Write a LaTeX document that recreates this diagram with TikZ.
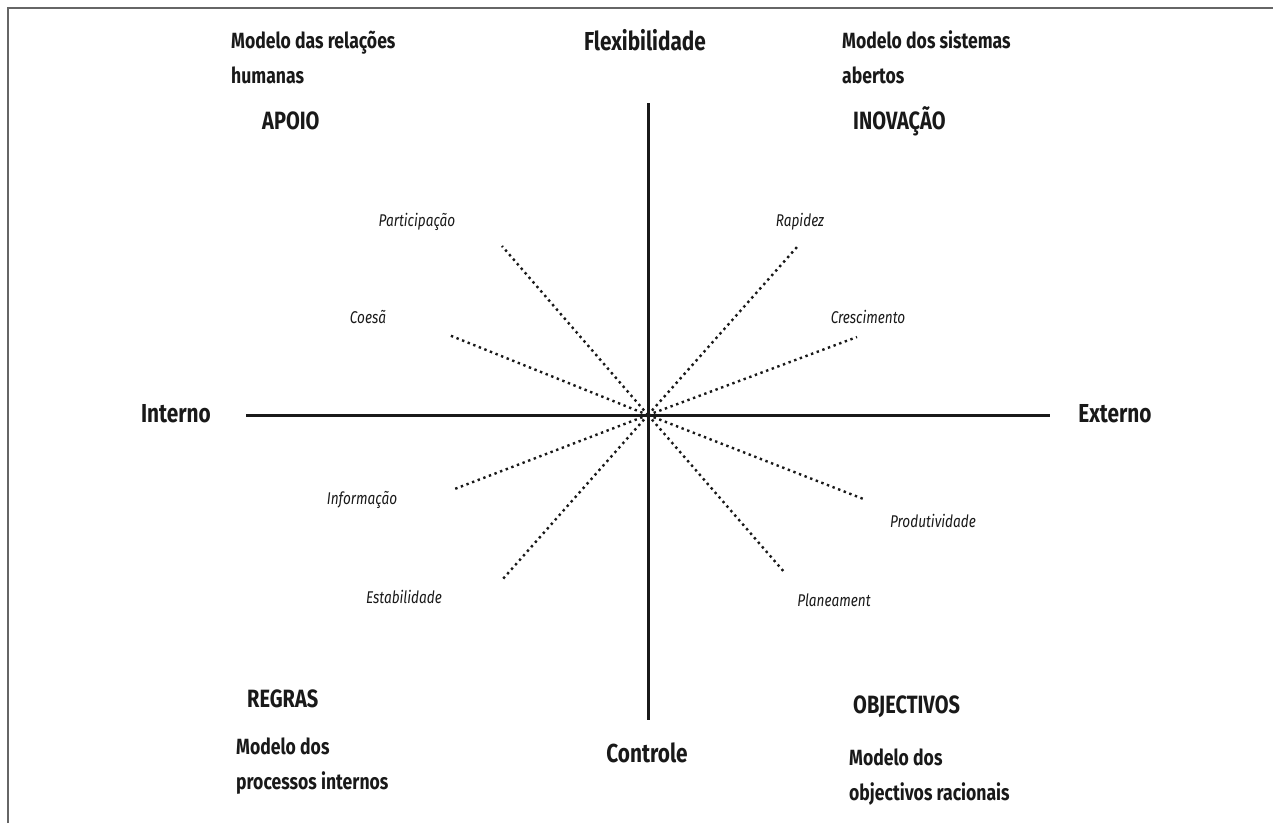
\documentclass[tikz,border=0pt]{standalone}
\usepackage{fontspec}
\setmainfont{Fira Sans}[FakeStretch=0.8]
\usetikzlibrary{positioning}

\begin{document}
\begin{tikzpicture}[
  x=1pt, y=-1pt,
  axis/.style={line width=3pt, black!90},
  ray/.style={line width=2.4pt, dash pattern=on 2.4pt off 3.6pt, black!90},
  pole/.style={font=\fontsize{26}{30}\selectfont\bfseries, inner sep=0pt, anchor=base, text=black!90},
  quad/.style={font=\fontsize{25}{30}\selectfont\bfseries, inner sep=0pt, anchor=base west, text=black!90},
  model/.style={font=\fontsize{22}{35}\selectfont\bfseries, align=left, inner sep=0pt, anchor=base west, text=black!90},
  item/.style={font=\fontsize{17}{20}\selectfont\itshape, inner sep=0pt, text=black!90}
]
\useasboundingbox (0,0) rectangle (1273,823);
\draw[black!60, line width=1.5pt] (8,823) -- (8,8) -- (1273,8);

% axes
\coordinate (o) at (648,415);
\coordinate (top) at (648,103);
\coordinate (bot) at (648,720);
\coordinate (lft) at (246,415);
\coordinate (rgt) at (1050,415);
\node[pole] (flex) at (645,50) {Flexibilidade};
\node[pole] (ctrl) at (647,762) {Controle};
\node[pole] (int) at (176,422) {Interno};
\node[pole] (ext) at (1115,422) {Externo};
\draw[axis] (top) -- (bot);
\draw[axis] (lft) -- (rgt);

% quadrants (base = last line)
\node[model] (mrh) at (231,83) {Modelo das relações\\humanas};
\node[model] (msa) at (842,83) {Modelo dos sistemas\\abertos};
\node[model] (mpi) at (236,789) {Modelo dos\\processos internos};
\node[model] (mor) at (849,800) {Modelo dos\\objectivos racionais};
\node[quad] (apoio) at (262,129) {APOIO};
\node[quad] (inov) at (853,129) {INOVAÇÃO};
\node[quad] (regras) at (247,707) {REGRAS};
\node[quad] (obj) at (853,713) {OBJECTIVOS};

% rays
\coordinate (part) at (502,246);
\coordinate (coes) at (449,335);
\coordinate (info) at (452,490);
\coordinate (esta) at (502,580);
\coordinate (rapi) at (797,247);
\coordinate (cres) at (857,337);
\coordinate (prod) at (866,500);
\coordinate (plan) at (785,573);
\node[item] (lpart) at (417,222) {Participação};
\node[item] (lcoes) at (368,317) {Coesã};
\node[item] (linfo) at (362,500) {Informação};
\node[item] (lesta) at (404,597) {Estabilidade};
\node[item] (lrapi) at (800,222) {Rapidez};
\node[item] (lcres) at (868,317) {Crescimento};
\node[item] (lprod) at (933,521) {Produtividade};
\node[item] (lplan) at (834,600) {Planeament};
\draw[ray] (o) -- (part);
\draw[ray] (o) -- (coes);
\draw[ray] (o) -- (info);
\draw[ray] (o) -- (esta);
\draw[ray] (o) -- (rapi);
\draw[ray] (o) -- (cres);
\draw[ray] (o) -- (prod);
\draw[ray] (o) -- (plan);
\end{tikzpicture}
\end{document}
